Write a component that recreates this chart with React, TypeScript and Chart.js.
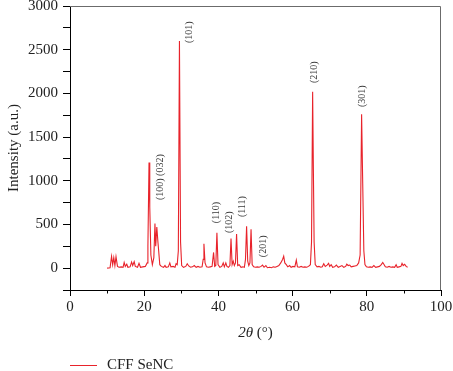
import React, { useEffect, useRef } from "react";
import { Chart, registerables } from "chart.js";

Chart.register(...registerables);

const seriesName = "CFF SeNC";

const twoTheta = [
  10.0, 10.8, 11.2, 11.5, 11.8, 12.1, 12.4, 12.8, 13.2, 13.8, 14.3, 14.6, 14.9, 15.3, 15.6, 16.2, 16.6, 16.9,
  17.3, 17.6, 18.2, 18.6, 19.0, 19.6, 20.3, 20.8, 21.0, 21.3, 21.5, 21.8, 22.2, 22.6, 22.9, 23.1, 23.4, 23.7,
  23.9, 24.2, 24.6, 25.2, 25.6, 25.9, 26.5, 26.9, 27.2, 27.8, 28.3, 28.6, 28.9, 29.2, 29.5, 29.8, 30.1, 30.6,
  31.2, 31.6, 32.0, 32.5, 33.0, 33.5, 34.0, 34.5, 35.0, 35.6, 35.9, 36.1, 36.4, 36.8, 37.3, 37.8, 38.3, 38.7,
  39.0, 39.3, 39.6, 39.9, 40.4, 40.9, 41.3, 41.6, 42.0, 42.3, 42.7, 43.1, 43.4, 43.7, 44.0, 44.3, 44.6, 44.9,
  45.2, 45.6, 46.1, 46.6, 47.0, 47.3, 47.6, 47.9, 48.2, 48.5, 48.8, 49.1, 49.5, 50.0, 50.5, 51.0, 51.5, 51.9,
  52.3, 52.8, 53.2, 53.8, 54.3, 54.8, 55.3, 55.8, 56.3, 56.8, 57.3, 57.6, 57.9, 58.3, 58.7, 59.2, 59.6, 60.1,
  60.6, 61.0, 61.3, 61.8, 62.3, 62.8, 63.3, 63.8, 64.3, 64.8, 65.1, 65.4, 65.6, 65.8, 66.1, 66.6, 67.1, 67.6,
  68.0, 68.4, 68.8, 69.3, 69.7, 70.0, 70.4, 70.8, 71.3, 71.8, 72.3, 72.8, 73.3, 73.8, 74.3, 74.6, 75.0, 75.4,
  75.8, 76.3, 76.8, 77.3, 77.8, 78.2, 78.6, 78.9, 79.2, 79.5, 79.9, 80.4, 80.9, 81.4, 81.9, 82.4, 82.9, 83.4,
  83.9, 84.3, 84.6, 85.0, 85.5, 86.0, 86.5, 87.0, 87.5, 87.9, 88.2, 88.7, 89.2, 89.5, 89.8, 90.2, 90.6, 91.0,
];

const intensity = [
  0, 5, 135, 40, 120, 30, 130, 20, 10, 15, 10, 65, 20, 45, 10, 15, 70, 30,
  75, 20, 10, 55, 10, 15, 20, 60, 250, 1210, 700, 150, 40, 120, 510, 250, 470, 300,
  200, 40, 20, 10, 30, 10, 15, 60, 15, 20, 10, 50, 40, 200, 2600, 300, 30, 10,
  20, 50, 25, 10, 15, 30, 10, 20, 10, 15, 100, 280, 60, 15, 10, 15, 20, 180,
  20, 30, 405, 40, 10, 20, 60, 15, 60, 20, 10, 30, 340, 40, 80, 30, 60, 390,
  30, 40, 10, 15, 10, 100, 480, 80, 30, 60, 445, 40, 15, 10, 15, 10, 20, 35,
  10, 30, 5, 10, 5, 15, 10, 20, 30, 60, 100, 137, 60, 40, 15, 30, 10, 20,
  15, 92, 15, 10, 20, 10, 15, 10, 20, 40, 300, 2020, 1130, 300, 40, 15, 20, 10,
  15, 50, 20, 35, 55, 20, 40, 10, 15, 35, 10, 20, 30, 10, 20, 45, 30, 35,
  15, 20, 25, 30, 60, 150, 1760, 970, 200, 40, 15, 10, 15, 10, 30, 10, 15, 20,
  40, 65, 45, 15, 10, 20, 10, 15, 10, 40, 10, 15, 20, 55, 30, 45, 20, 10,
];

const peakLabels = ["(100) (032)", "(101)", "(110)", "(102)", "(111)", "(201)", "(210)", "(301)"];
const peakLabelX = [24.3, 32.3, 39.4, 42.9, 46.4, 52.0, 65.8, 78.7];
const peakLabelY = [779, 2577, 515, 401, 584, 126, 2119, 1844];

const xMinorTicks = [10, 30, 50, 70, 90];
const xTitleItalic = "2θ";
const xTitleRest = " (°)";
const yTitle = "Intensity (a.u.)";

const SERIF = '"Liberation Serif", "DejaVu Serif", serif';
const RED = "#e8232b";

const decorPlugin = {
  id: "decor",
  afterDraw(chart: any) {
    const { ctx, chartArea, scales } = chart;
    const { left, right, top, bottom } = chartArea;
    const x = scales.x;
    const y = scales.y;
    ctx.save();
    // frame top & right
    ctx.strokeStyle = "#6b6b6b";
    ctx.lineWidth = 1;
    ctx.beginPath();
    ctx.moveTo(left, top + 0.5);
    ctx.lineTo(right - 0.5, top + 0.5);
    ctx.lineTo(right - 0.5, bottom);
    ctx.stroke();
    // minor x ticks
    ctx.strokeStyle = "#000";
    ctx.beginPath();
    xMinorTicks.forEach((v) => {
      const px = Math.round(x.getPixelForValue(v)) + 0.5;
      ctx.moveTo(px, bottom);
      ctx.lineTo(px, bottom + 3.5);
    });
    ctx.stroke();
    // peak labels
    ctx.fillStyle = "#3a3a3a";
    ctx.font = `10px ${SERIF}`;
    peakLabels.forEach((t, i) => {
      const px = x.getPixelForValue(peakLabelX[i]);
      const py = y.getPixelForValue(peakLabelY[i]);
      ctx.save();
      ctx.translate(px, py);
      ctx.rotate(-Math.PI / 2);
      ctx.textAlign = "left";
      ctx.textBaseline = "middle";
      ctx.fillText(t, 0, 0);
      ctx.restore();
    });
    // x title with italic theta
    ctx.fillStyle = "#222";
    ctx.textBaseline = "middle";
    ctx.textAlign = "left";
    ctx.font = `italic 15px ${SERIF}`;
    const w1 = ctx.measureText(xTitleItalic).width;
    ctx.font = `15px ${SERIF}`;
    const w2 = ctx.measureText(xTitleRest).width;
    const cx = (left + right) / 2;
    const sx = cx - (w1 + w2) / 2;
    const ty = bottom + 43;
    ctx.font = `italic 15px ${SERIF}`;
    ctx.fillText(xTitleItalic, sx, ty);
    ctx.font = `15px ${SERIF}`;
    ctx.fillText(xTitleRest, sx + w1, ty);
    // legend
    const ly = bottom + 75.5;
    ctx.strokeStyle = RED;
    ctx.lineWidth = 1;
    ctx.beginPath();
    ctx.moveTo(left, ly);
    ctx.lineTo(left + 27, ly);
    ctx.stroke();
    ctx.fillStyle = "#222";
    ctx.font = `15px ${SERIF}`;
    ctx.fillText(seriesName, left + 37, ly);
    ctx.restore();
  },
};

export default function App() {
  const ref = useRef<HTMLCanvasElement | null>(null);
  useEffect(() => {
    document.body.style.margin = "0";
    const canvas = ref.current;
    if (!canvas) return;
    const data = twoTheta.map((t, i) => ({ x: t, y: intensity[i] }));
    const chart = new Chart(canvas, {
      type: "line",
      data: {
        datasets: [
          {
            label: seriesName,
            data,
            borderColor: RED,
            backgroundColor: RED,
            borderWidth: 1.1,
            pointRadius: 0,
            tension: 0,
          },
        ],
      },
      plugins: [decorPlugin],
      options: {
        animation: false,
        responsive: false,
        devicePixelRatio: 1,
        layout: { padding: { left: 0, right: 12, top: 6, bottom: 0 } },
        plugins: {
          legend: { display: false },
          tooltip: { enabled: false },
        },
        scales: {
          x: {
            type: "linear",
            min: 0,
            max: 100,
            afterFit: (s: any) => {
              s.height = 81;
              s.paddingLeft = 0;
              s.paddingRight = 0;
            },
            ticks: {
              stepSize: 20,
              color: "#222",
              font: { family: SERIF, size: 15 },
              padding: 2,
              maxRotation: 0,
            },
            grid: { drawOnChartArea: false, drawTicks: true, tickLength: 6, color: "#000" },
            border: { display: true, color: "#000", width: 1 },
          },
          y: {
            min: -250,
            max: 3000,
            afterFit: (s: any) => {
              s.width = 70;
              s.paddingTop = 0;
              s.paddingBottom = 0;
            },
            afterBuildTicks: (s: any) => {
              const t = [];
              for (let v = -250; v <= 3000; v += 250) t.push({ value: v });
              s.ticks = t;
            },
            ticks: {
              color: "#222",
              font: { family: SERIF, size: 15 },
              padding: 5,
              callback: (v: any) => (Number(v) >= 0 && Number(v) % 500 === 0 ? String(v) : ""),
            },
            grid: { drawOnChartArea: false, drawTicks: true, tickLength: 7, color: "#000" },
            border: { display: true, color: "#000", width: 1 },
            title: {
              display: true,
              text: yTitle,
              color: "#222",
              font: { family: SERIF, size: 15 },
              padding: { top: 5, bottom: 0 },
            },
          },
        },
      },
    });
    return () => chart.destroy();
  }, []);
  return (
    <div style={{ width: 453, height: 371 }}>
      <canvas ref={ref} width={453} height={371} />
    </div>
  );
}
